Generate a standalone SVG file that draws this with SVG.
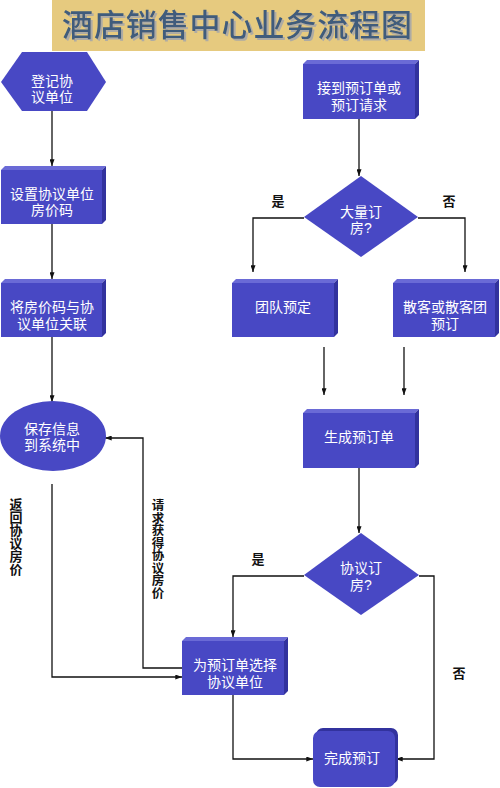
<svg xmlns="http://www.w3.org/2000/svg" width="500" height="788" viewBox="0 0 500 788">
<defs>
<style>
.front{fill:#4848C4}
.top{fill:#6A6AD6}
.side{fill:#32329E}
.t{font-family:"Liberation Sans","Noto Sans CJK SC",sans-serif;font-size:14px;fill:#ffffff;text-anchor:middle}
.lbl{font-family:"Liberation Sans","Noto Sans CJK SC",sans-serif;font-size:13px;font-weight:bold;fill:#111111;text-anchor:middle}
.vl{font-family:"Noto Sans CJK SC","Noto Sans",sans-serif;font-size:13px;font-weight:bold;fill:#111111;writing-mode:vertical-rl;text-anchor:start}
.ln{fill:none;stroke:#111111;stroke-width:1.3}
.title{font-family:"Noto Sans CJK SC","Noto Sans",sans-serif;font-size:31px;font-weight:500;text-anchor:middle;fill:#3F5C7C}
</style>
<filter id="sh" x="-5%" y="-20%" width="110%" height="140%">
<feDropShadow dx="2" dy="2" stdDeviation="0.6" flood-color="#A8A8A8" flood-opacity="0.9"/>
</filter>
<marker id="ah" viewBox="0 0 8 6" refX="8" refY="3" markerWidth="7" markerHeight="5" orient="auto" markerUnits="userSpaceOnUse">
<path d="M0,0 L8,3 L0,6 z" fill="#111111"/>
</marker>
</defs>
<rect width="500" height="788" fill="#ffffff"/>
<g id="title">
<rect x="52" y="0" width="373" height="51" fill="#E6CA7F"/>
<text class="title" x="237" y="36" textLength="350" lengthAdjust="spacing" filter="url(#sh)">酒店销售中心业务流程图</text>
</g>
<g id="connectors">
<line class="ln" x1="52" y1="111" x2="52" y2="166" marker-end="url(#ah)"/>
<line class="ln" x1="52" y1="224" x2="52" y2="279" marker-end="url(#ah)"/>
<line class="ln" x1="52" y1="337" x2="52" y2="402" marker-end="url(#ah)"/>
<polyline class="ln" points="52,484 52,677 182,677" marker-end="url(#ah)"/>
<polyline class="ln" points="182,668 143,668 143,438 105,438" marker-end="url(#ah)"/>
<line class="ln" x1="359" y1="119" x2="359" y2="176" marker-end="url(#ah)"/>
<polyline class="ln" points="304,218 253,218 253,272" marker-end="url(#ah)"/>
<polyline class="ln" points="418,218 465,218 465,272" marker-end="url(#ah)"/>
<line class="ln" x1="324" y1="347" x2="324" y2="395" marker-end="url(#ah)"/>
<line class="ln" x1="404" y1="347" x2="404" y2="395" marker-end="url(#ah)"/>
<line class="ln" x1="359" y1="468" x2="359" y2="533" marker-end="url(#ah)"/>
<polyline class="ln" points="304,576 233,576 233,637" marker-end="url(#ah)"/>
<polyline class="ln" points="419,576 434,576 434,759 396,759" marker-end="url(#ah)"/>
<polyline class="ln" points="233,695 233,759 313,759" marker-end="url(#ah)"/>
<text class="vl" x="16" y="498">返回协议房价</text>
<text class="vl" x="158" y="499" style="font-size:12.5px">请求获得协议房价</text>
<text class="lbl" x="278" y="206">是</text>
<text class="lbl" x="449" y="206">否</text>
<text class="lbl" x="258" y="564">是</text>
<text class="lbl" x="459" y="678">否</text>
</g>
<g id="n1">
<polygon class="front" points="1,82 22,52 87,52 106,82 87,111 22,111"/>
<text class="t" x="52" y="86">登记协<tspan x="52" dy="16">议单位</tspan></text>
</g>
<g id="n2">
<polygon class="top" points="1,170 5,166 106,166 102,170"/>
<polygon class="side" points="102,170 106,166 106,220 102,224"/>
<rect class="front" x="1" y="170" width="101" height="54"/>
<text class="t" x="52" y="199">设置协议单位<tspan x="52" dy="16">房价码</tspan></text>
</g>
<g id="n3">
<polygon class="top" points="1,283 5,279 106,279 102,283"/>
<polygon class="side" points="102,283 106,279 106,333 102,337"/>
<rect class="front" x="1" y="283" width="101" height="54"/>
<text class="t" x="52" y="312">将房价码与协<tspan x="52" dy="17">议单位关联</tspan></text>
</g>
<g id="n4">
<ellipse class="front" cx="53" cy="436" rx="53" ry="35"/>
<text class="t" x="52" y="434">保存信息<tspan x="52" dy="16">到系统中</tspan></text>
</g>
<g id="n5">
<polygon class="top" points="303,64 307,60 419,60 415,64"/>
<polygon class="side" points="415,64 419,60 419,115 415,119"/>
<rect class="front" x="303" y="64" width="112" height="55"/>
<text class="t" x="359" y="93">接到预订单或<tspan x="359" dy="17">预订请求</tspan></text>
</g>
<g id="n6">
<polygon class="front" points="361,176 418,217 361,257 304,217"/>
<text class="t" x="361" y="217">大量订<tspan x="361" dy="16">房?</tspan></text>
</g>
<g id="n7">
<polygon class="top" points="232,283 236,279 338,279 334,283"/>
<polygon class="side" points="334,283 338,279 338,333 334,337"/>
<rect class="front" x="232" y="283" width="102" height="54"/>
<text class="t" x="283" y="312">团队预定</text>
</g>
<g id="n8">
<polygon class="top" points="393,283 397,279 499,279 495,283"/>
<polygon class="side" points="495,283 499,279 499,333 495,337"/>
<rect class="front" x="393" y="283" width="102" height="54"/>
<text class="t" x="445" y="312">散客或散客团<tspan x="445" dy="17">预订</tspan></text>
</g>
<g id="n9">
<polygon class="top" points="303,413 307,409 419,409 415,413"/>
<polygon class="side" points="415,413 419,409 419,464 415,468"/>
<rect class="front" x="303" y="413" width="112" height="55"/>
<text class="t" x="359" y="442">生成预订单</text>
</g>
<g id="n10">
<polygon class="front" points="361,533 419,575 361,615 304,575"/>
<text class="t" x="361" y="573">协议订<tspan x="361" dy="17">房?</tspan></text>
</g>
<g id="n11">
<polygon class="top" points="182,641 186,637 288,637 284,641"/>
<polygon class="side" points="284,641 288,637 288,691 284,695"/>
<rect class="front" x="182" y="641" width="102" height="54"/>
<text class="t" x="235" y="670">为预订单选择<tspan x="235" dy="17">协议单位</tspan></text>
</g>
<g id="n12">
<rect class="side" x="316" y="728" width="82" height="56" rx="7"/>
<rect class="front" x="313" y="731" width="82" height="56" rx="7"/>
<text class="t" x="352" y="763">完成预订</text>
</g>
</svg>
